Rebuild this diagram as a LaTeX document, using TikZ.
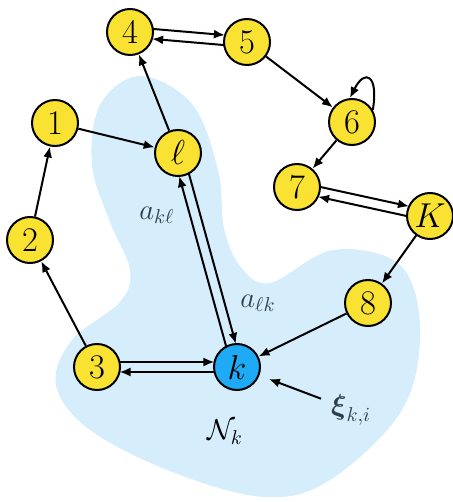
\documentclass[tikz,border=0pt]{standalone}
\usepackage{amsmath}
\usetikzlibrary{arrows.meta,calc}

\definecolor{agentyellow}{RGB}{250,226,50}
\definecolor{agentblue}{RGB}{30,170,245}
\definecolor{hoodblue}{RGB}{214,237,252}
\definecolor{labelgray}{RGB}{44,62,80}

\begin{document}
\begin{tikzpicture}[
  x=0.5pt, y=-0.5pt,
  agent/.style={circle, draw, line width=1pt, fill=agentyellow, minimum size=23pt,
    inner sep=0pt, font=\LARGE},
  arr/.style={-{Latex[length=5.5pt,width=4.5pt]}, line width=1pt},
  pairarr/.style={arr, shorten <=11.3pt, shorten >=11.3pt},
  wlabel/.style={font=\Large, text=labelgray},
]
\useasboundingbox (0,0) rectangle (453,502);

% Neighbourhood of agent k
\fill[hoodblue] plot[smooth cycle, tension=0.6] coordinates {
  (140,76) (192,104) (218,170) (224,228) (240,266) (270,283) (333,250)
  (400,265) (420,330) (402,410) (330,480) (265,497) (175,473) (90,430)
  (56,385) (72,340) (120,302) (130,270) (110,222) (92,165) (100,105)};

% Agents
\node[agent] (n1) at (55,123) {$1$};
\node[agent] (n2) at (30,240) {$2$};
\node[agent] (n3) at (97,367) {$3$};
\node[agent] (n4) at (130,32) {$4$};
\node[agent] (n5) at (247,42) {$5$};
\node[agent] (n6) at (352,122) {$6$};
\node[agent] (n7) at (297,187) {$7$};
\node[agent] (n8) at (368,303) {$8$};
\node[agent] (nK) at (430,216) {$K$};
\node[agent] (nl) at (178,153) {$\ell$};
\node[agent, fill=agentblue] (nk) at (237,367) {$k$};

% Labels
\node[wlabel] (akl) at (157,215) {$a_{k\ell}$};
\node[wlabel] (alk) at (258,303) {$a_{\ell k}$};
\node[wlabel, inner sep=2pt] (xi) at (351,410) {$\boldsymbol{\xi}_{k,i}$};
\node[font=\Large] (Nk) at (225,432) {$\mathcal{N}_k$};

% One-way links
\draw[arr] (n1) -- (nl);
\draw[arr] (nl) -- (n4);
\draw[arr] (n5) -- (n6);
\draw[arr] (n6) -- (n7);
\draw[arr] (nK) -- (n8);
\draw[arr] (n8) -- (nk);
\draw[arr] (n2) -- (n1);
\draw[arr] (n3) -- (n2);
\draw[arr] (n6.30) .. controls +(6,-35) and +(15,-30) .. (n6.95);

% Two-way links
\foreach \a/\b in {n4/n5, n7/nK, n3/nk, nl/nk} {
  \draw[pairarr] ($(\a)!2.5pt!90:(\b)$) -- ($(\b)!2.5pt!-90:(\a)$);
  \draw[pairarr] ($(\b)!2.5pt!90:(\a)$) -- ($(\a)!2.5pt!-90:(\b)$);
}

% Data into k
\draw[arr, shorten <=3pt, shorten >=5pt] (xi) -- (nk);

\end{tikzpicture}
\end{document}
